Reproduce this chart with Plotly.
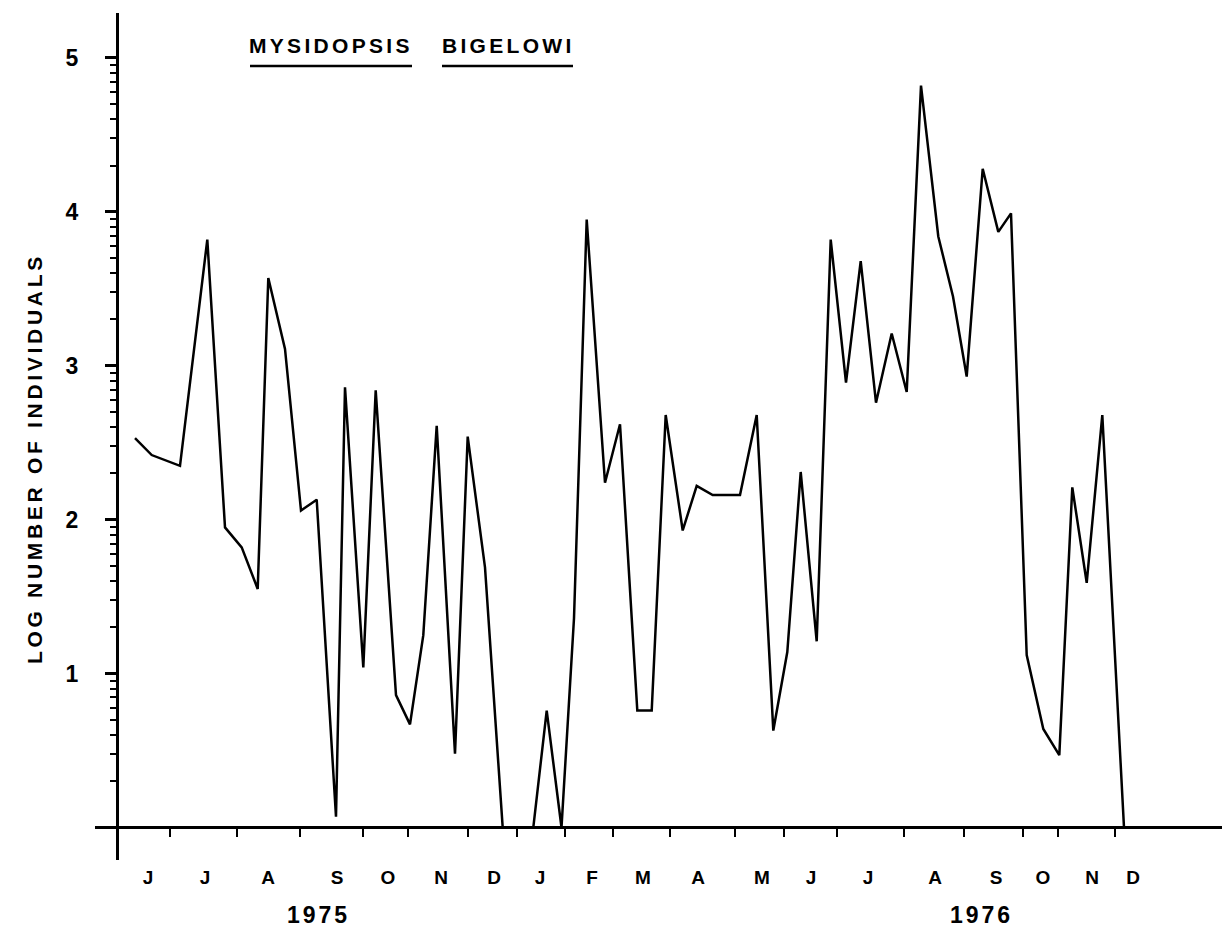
import numpy as np
import plotly.graph_objects as go

# ---- data ----
# sampling position along the time axis (arbitrary units, y-axis at 0)
sample_pos = [18, 34.7, 63, 90.3, 108, 124.7, 140.7, 151.3, 168, 184, 199.7, 219,
              228, 246.3, 258.7, 279, 293, 306.3, 319.7, 338, 350.7, 368, 385.7,
              416.3, 429.7, 444.5, 457, 469.7, 488, 503, 520.3, 534.7, 548.7, 565.7,
              579.7, 595.7, 623, 639.7, 656.3, 670.3, 683.7, 699.7, 713.7, 729,
              743.7, 759, 774.7, 789.7, 804, 821.3, 836, 849.7, 865.7, 881.3, 894,
              909.7, 926.3, 942.3, 955.3, 969.7, 985.3, 1007]
log_n = [2.53, 2.42, 2.35, 3.82, 1.95, 1.82, 1.55, 3.57, 3.11, 2.06, 2.13, 0.07,
         2.86, 1.04, 2.84, 0.86, 0.67, 1.25, 2.61, 0.48, 2.54, 1.69, 0.0,
         0.0, 0.76, 0.0, 1.36, 3.95, 2.24, 2.62, 0.76, 0.76, 2.68, 1.93,
         2.22, 2.16, 2.16, 2.68, 0.63, 1.14, 2.31, 1.21, 3.82, 2.89,
         3.68, 2.76, 3.21, 2.83, 4.82, 3.84, 3.45, 2.93, 4.28, 3.87, 3.99,
         1.12, 0.64, 0.47, 2.21, 1.59, 2.68, 0.0]

month_letters = ["J", "J", "A", "S", "O", "N", "D", "J", "F", "M", "A", "M",
                 "J", "J", "A", "S", "O", "N", "D"]
month_centers = [31, 88, 151, 220, 271, 324, 377, 423, 475, 526, 581, 645,
                 694, 751, 818, 879, 926, 975, 1016]
month_bounds = [53, 120, 183, 246, 291, 351, 400, 448, 496, 553, 618, 667,
                720, 787, 847, 906, 941, 998]
year_labels = ["1975", "1976"]
year_centers = [201, 864]

y_major = [1, 2, 3, 4, 5]
y_major_text = ["1", "2", "3", "4", "5"]
y_minor = [n + np.log10(k) for n in range(0, 5) for k in range(2, 10)]

title_words = ["MYSIDOPSIS", "BIGELOWI"]
title_centers = [214, 391]
title_spans = [(133, 295), (325, 456)]

x_range = [-22, 1105]
y_range = [-0.211, 5.292]

FONT = "Liberation Sans"


def spaced(t, ls):
    return f'<span style="letter-spacing:{ls}px"><b>{t}</b></span>'


fig = go.Figure()
fig.add_trace(go.Scatter(x=sample_pos, y=log_n, mode="lines",
                         line=dict(color="black", width=2.5),
                         hoverinfo="skip", showlegend=False))

pos_y0 = (0 - y_range[0]) / (y_range[1] - y_range[0])
pos_x0 = (0 - x_range[0]) / (x_range[1] - x_range[0])

fig.update_layout(
    width=1222, height=928,
    margin=dict(l=95, r=0, t=13, b=68),
    plot_bgcolor="white", paper_bgcolor="white",
    showlegend=False,
    font=dict(family=FONT, color="black"),
    xaxis=dict(
        range=x_range, showgrid=False, showline=False,
        zeroline=True, zerolinecolor="black", zerolinewidth=2.5,
        anchor="free", position=pos_y0,
        tickmode="array", tickvals=month_centers,
        ticktext=[spaced(t, 0) for t in month_letters],
        ticks="", ticklabelstandoff=36,
        tickfont=dict(family=FONT, size=19, color="black"),
        minor=dict(tickmode="array", tickvals=month_bounds, ticks="outside",
                   ticklen=8, tickwidth=2, tickcolor="black", showgrid=False),
    ),
    yaxis=dict(
        range=y_range, showgrid=False, showline=False,
        zeroline=True, zerolinecolor="black", zerolinewidth=2.5,
        anchor="free", position=pos_x0,
        tickmode="array", tickvals=y_major,
        ticktext=[spaced(t, 0) for t in y_major_text],
        ticks="outside", ticklen=12, tickwidth=2.5, tickcolor="black",
        ticklabelstandoff=22,
        tickfont=dict(family=FONT, size=23, color="black"),
        minor=dict(tickmode="array", tickvals=y_minor, ticks="outside",
                   ticklen=7, tickwidth=2, tickcolor="black", showgrid=False),
    ),
)

annotations = []
for w, c in zip(title_words, title_centers):
    annotations.append(dict(x=c, y=5.078, xref="x", yref="y", text=spaced(w, 3.3),
                            showarrow=False, font=dict(family=FONT, size=21, color="black"),
                            xanchor="center", yanchor="middle"))
for w, c in zip(year_labels, year_centers):
    annotations.append(dict(x=c, y=-0.065, xref="x", yref="paper", text=spaced(w, 3),
                            showarrow=False, font=dict(family=FONT, size=23, color="black"),
                            xanchor="center", yanchor="middle"))
annotations.append(dict(x=-0.0541, y=2.394, xref="paper", yref="y",
                        text=spaced("LOG NUMBER OF INDIVIDUALS", 3.7), textangle=-90,
                        showarrow=False, font=dict(family=FONT, size=21, color="black"),
                        xanchor="center", yanchor="middle"))
fig.update_layout(annotations=annotations)

for x0, x1 in title_spans:
    fig.add_shape(type="line", xref="x", yref="y", x0=x0, x1=x1, y0=4.948, y1=4.948,
                  line=dict(color="black", width=2.5))

fig.write_html("out.html")
